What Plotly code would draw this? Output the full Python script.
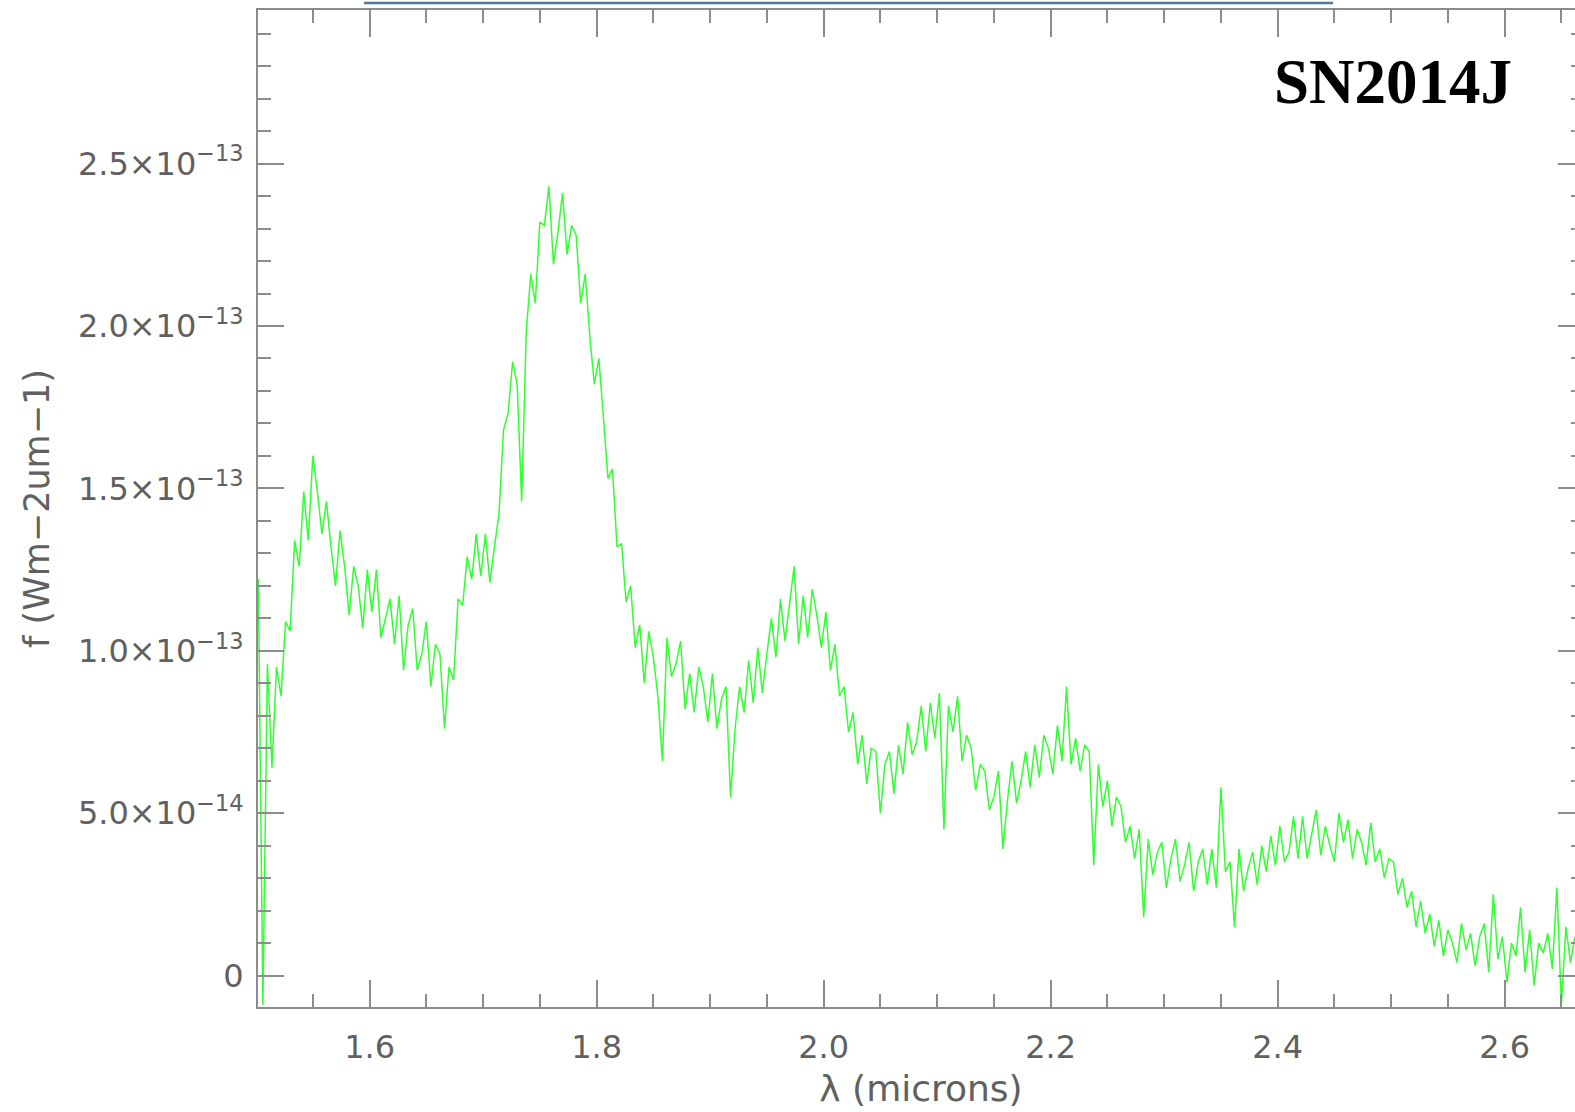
import numpy as np
import plotly.graph_objects as go

# Wavelength sampling of the spectrum (microns)
WAVE_START = 1.502
WAVE_STEP = 0.004

# Flux values, in units of 1e-14 W m^-2 um^-1
FLUX_E14 = [
    12.2, -0.9, 9.6, 6.4, 9.5, 8.6, 10.9, 10.6, 13.4, 12.6,
    14.9, 13.4, 16.0, 14.9, 13.6, 14.6, 13.2, 12.0, 13.7, 12.6,
    11.1, 12.6, 12.0, 10.7, 12.5, 11.2, 12.5, 10.4, 11.0, 11.6,
    10.2, 11.7, 9.4, 10.8, 11.3, 9.4, 9.9, 10.9, 8.9, 10.2,
    9.9, 7.6, 9.5, 9.1, 11.6, 11.4, 12.9, 12.2, 13.6, 12.3,
    13.6, 12.1, 13.2, 14.2, 16.8, 17.3, 18.9, 18.2, 14.6, 19.8,
    21.6, 20.7, 23.2, 23.1, 24.3, 21.9, 22.9, 24.1, 22.2, 23.1,
    22.8, 20.7, 21.6, 19.7, 18.2, 19.0, 17.2, 15.3, 15.6, 13.2,
    13.3, 11.5, 12.0, 10.1, 10.8, 9.0, 10.6, 9.8, 8.6, 6.6,
    10.4, 9.2, 9.6, 10.3, 8.2, 9.3, 8.1, 9.5, 8.9, 7.8,
    9.3, 7.6, 8.5, 8.9, 5.5, 7.6, 8.9, 8.1, 9.7, 8.4,
    10.1, 8.7, 9.9, 11.0, 9.8, 11.6, 10.3, 11.4, 12.6, 10.2,
    11.7, 10.4, 11.9, 11.1, 10.1, 11.2, 9.4, 10.2, 8.6, 8.9,
    7.5, 8.1, 6.5, 7.4, 5.9, 7.0, 6.9, 5.0, 6.5, 6.9,
    5.6, 7.1, 6.2, 7.8, 6.8, 7.2, 8.3, 6.9, 8.4, 7.3,
    8.7, 4.5, 8.3, 7.5, 8.6, 6.6, 7.4, 7.0, 5.7, 6.5,
    6.3, 5.1, 5.5, 6.3, 3.9, 5.4, 6.6, 5.3, 6.0, 6.9,
    5.8, 7.1, 6.1, 7.4, 7.0, 6.2, 7.7, 6.6, 8.9, 6.5,
    7.3, 6.3, 7.1, 6.9, 3.4, 6.5, 5.2, 6.0, 4.6, 5.5,
    5.2, 4.1, 4.6, 3.6, 4.5, 1.8, 4.2, 3.1, 3.8, 4.1,
    2.7, 3.6, 4.2, 2.9, 3.4, 4.1, 2.6, 3.5, 3.9, 2.8,
    3.9, 2.7, 5.8, 3.2, 3.5, 1.5, 3.9, 2.6, 3.3, 3.8,
    2.8, 4.0, 3.2, 4.3, 3.4, 4.6, 3.5, 3.8, 4.9, 3.6,
    4.9, 3.6, 4.3, 5.1, 3.7, 4.6, 4.0, 3.5, 5.0, 4.1,
    4.8, 3.6, 4.5, 4.1, 3.4, 4.7, 3.5, 3.9, 3.0, 3.6,
    3.5, 2.5, 3.0, 2.1, 2.6, 1.5, 2.3, 1.3, 1.9, 0.9,
    1.7, 0.6, 1.4, 1.0, 0.4, 1.6, 0.8, 1.3, 0.3, 1.2,
    1.6, 0.1, 2.5, 0.5, 1.2, -0.2, 1.0, 0.6, 2.1, 0.1,
    1.4, -0.3, 1.0, 0.7, 1.3, 0.2, 2.7, -0.9, 1.5, 0.4,
    1.2, 0.4,
]
FLUX_UNIT = 1e-14

X_TICKS = [1.6, 1.8, 2.0, 2.2, 2.4, 2.6]
X_TICK_LABELS = ["1.6", "1.8", "2.0", "2.2", "2.4", "2.6"]
Y_TICKS = [0, 5e-14, 1.0e-13, 1.5e-13, 2.0e-13, 2.5e-13]
Y_TICK_LABELS = [
    "0",
    "5.0\u00d710<sup>\u221214</sup>",
    "1.0\u00d710<sup>\u221213</sup>",
    "1.5\u00d710<sup>\u221213</sup>",
    "2.0\u00d710<sup>\u221213</sup>",
    "2.5\u00d710<sup>\u221213</sup>",
]
X_RANGE = [1.5017, 2.6699]
Y_RANGE = [-0.968e-14, 2.973e-13]

wave = WAVE_START + WAVE_STEP * np.arange(len(FLUX_E14))
flux = np.array(FLUX_E14) * FLUX_UNIT

W, H = 1600, 1112
L, R, T, B = 258, 16, 8, 105
TXT = "#606060"
AX = "#8c8c8c"

fig = go.Figure()
fig.add_trace(go.Scatter(
    x=wave, y=flux, mode="lines",
    line=dict(color="rgb(50,255,50)", width=1.5),
    showlegend=False, hoverinfo="skip",
))

axis_common = dict(
    showline=True, linecolor=AX, linewidth=2,
    mirror="ticks", ticks="inside", tickcolor=AX, tickwidth=1.5,
    showgrid=False, zeroline=False,
    tickfont=dict(family="DejaVu Sans", size=32, color=TXT),
)

fig.update_xaxes(
    **axis_common,
    range=X_RANGE, tickmode="array", tickvals=X_TICKS, ticktext=X_TICK_LABELS,
    ticklen=27, ticklabelstandoff=11,
    minor=dict(ticks="inside", ticklen=13, tick0=1.5, dtick=0.05,
               tickcolor=AX, tickwidth=1.5, showgrid=False),
    title=dict(text="\u03bb (microns)", standoff=10,
               font=dict(family="DejaVu Sans", size=36, color=TXT)),
)
fig.update_yaxes(
    **axis_common,
    range=Y_RANGE, tickmode="array", tickvals=Y_TICKS, ticktext=Y_TICK_LABELS,
    ticklen=26, ticklabelstandoff=6,
    minor=dict(ticks="inside", ticklen=13, tick0=0, dtick=1e-14,
               tickcolor=AX, tickwidth=1.5, showgrid=False),
    title=dict(text="f (Wm\u22122um\u22121)", standoff=18,
               font=dict(family="DejaVu Sans", size=35, color=TXT)),
)

pw = W - L - R
ph = H - T - B
fig.add_annotation(
    xref="paper", yref="paper",
    x=(1393 - L) / pw, y=(H - B - 80) / ph,
    xanchor="center", yanchor="middle", showarrow=False,
    text="<b>SN2014J</b>",
    font=dict(family="Liberation Serif", size=63, color="black"),
)
fig.add_shape(
    type="line", xref="paper", yref="paper",
    x0=(364 - L) / pw, x1=(1333 - L) / pw,
    y0=(H - B - 1) / ph, y1=(H - B - 1) / ph,
    line=dict(color="#557799", width=2.5),
)

fig.update_layout(
    width=W, height=H,
    margin=dict(l=L, r=R, t=T, b=B, pad=0),
    paper_bgcolor="white", plot_bgcolor="white",
)

fig.write_html(
    "out.html",
    config={"displayModeBar": False},
    post_script=("document.body.style.margin='0';"
                 "document.body.style.overflow='hidden';"
                 "document.documentElement.style.overflow='hidden';"),
)
